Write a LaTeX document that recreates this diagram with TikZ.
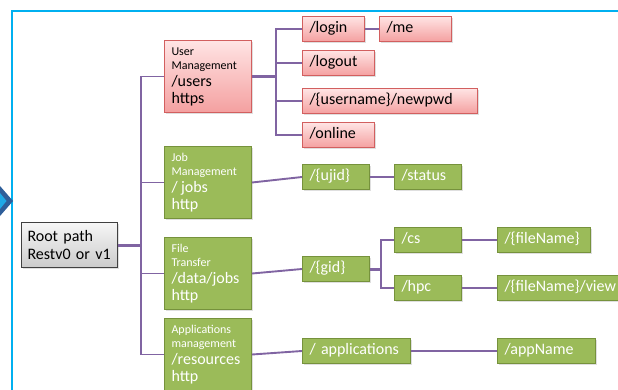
\documentclass[tikz,border=0pt]{standalone}
\usepackage{fontspec}
\setmainfont{Carlito}
\usetikzlibrary{shadows}
\definecolor{frameblue}{HTML}{00B0F0}
\definecolor{chevdark}{HTML}{2E5E9A}
\definecolor{chevlight}{HTML}{1FA8E6}
\definecolor{connc}{HTML}{8064A2}
\definecolor{gfill}{HTML}{9BBB59}
\definecolor{gdraw}{HTML}{76923C}
\definecolor{rtop}{HTML}{FFE4E4}
\definecolor{rbot}{HTML}{F4A0A0}
\definecolor{rdraw}{HTML}{D25F5F}
\definecolor{gtop}{HTML}{F6F6F6}
\definecolor{gbot}{HTML}{CBCBCB}
\tikzset{
  box/.style={draw, line width=1pt, anchor=north west, inner sep=0pt, inner xsep=7pt,
    align=left, drop shadow={opacity=0.25, shadow xshift=1.2pt, shadow yshift=-1.2pt}},
  redbox/.style={box, draw=rdraw, top color=rtop, bottom color=rbot},
  greenbox/.style={box, draw=gdraw, fill=gfill, text=white},
  leaftext/.style={minimum height=25pt, text height=11pt, text depth=4pt,
    font=\fontsize{16}{18}\selectfont},
  rleaf/.style={redbox, leaftext},
  gleaf/.style={greenbox, leaftext},
  bigbox/.style={text width=73pt, minimum height=72pt},
  rootbox/.style={box, draw=black!75, top color=gtop, bottom color=gbot, text width=84pt,
    inner xsep=6pt, minimum height=45pt, font=\fontsize{16}{18}\selectfont},
  conn/.style={draw=connc, line width=1.9pt},
  thickconn/.style={draw=connc, line width=3pt},
  frameline/.style={draw=frameblue, line width=2.3pt},
}
\newcommand{\smalltxt}{\fontsize{12}{14}\selectfont}
\newcommand{\bigtxt}{\fontsize{16}{17}\selectfont}
\begin{document}
\begin{tikzpicture}[x=1pt,y=-1pt]
\useasboundingbox (0,0) rectangle (618,390);
% frame and chevron
\draw[frameline] (12,400) -- (12,11) -- (630,11);
\fill[chevdark] (0,186) -- (13,201) -- (0,216) -- cycle;
\fill[chevlight] (0,193) -- (6.5,201) -- (0,209) -- cycle;

% root
\node[rootbox] (root) at (21,222) {Root path\\Restv0 or v1};

% second level
\node[redbox, bigbox] (um) at (164,40) {{\smalltxt User\\Management\par}{\bigtxt /users\\https\par}};
\node[greenbox, bigbox] (jm) at (164,146) {{\smalltxt Job\\Management\par}{\bigtxt / jobs\\http\par}};
\node[greenbox, bigbox] (ft) at (164,237) {{\smalltxt File\\Transfer\par}{\bigtxt /data/jobs\\http\par}};
\node[greenbox, bigbox] (ap) at (164,318) {{\smalltxt Applications\\management\par}{\bigtxt /resources\\http\par}};

% user leaves
\node[rleaf, text width=48pt] (login) at (302,16) {/login};
\node[rleaf, text width=58pt] (me) at (379,16) {/me};
\node[rleaf, text width=58pt] (logout) at (302,50) {/logout};
\node[rleaf, text width=161pt] (pwd) at (302,88) {/\{username\}/newpwd};
\node[rleaf, text width=58pt] (online) at (302,122) {/online};

% job leaves
\node[gleaf, text width=53pt] (ujid) at (302,164) {/\{ujid\}};
\node[gleaf, text width=53pt] (status) at (394,164) {/status};

% file leaves
\node[gleaf, text width=53pt] (gid) at (302,256) {/\{gid\}};
\node[gleaf, text width=53pt] (cs) at (394,227) {/cs};
\node[gleaf, text width=53pt] (hpc) at (394,275) {/hpc};
\node[gleaf, text width=79pt] (fn) at (497,227) {/\{fileName\}};
\node[gleaf, text width=120pt] (fv) at (497,275) {/\{fileName\}/view};

% apps leaves
\node[gleaf, text width=94pt] (apps) at (302,338) {/ applications};
\node[gleaf, text width=84pt] (appn) at (497,338) {/appName};

% connectors
\coordinate (trunk) at (141,244);
\coordinate (ub) at (276,0);
\coordinate (gb) at (381,0);
\draw[thickconn] (root.east) -- (root.east -| trunk);
\draw[conn] (um.west) -- (um.west -| trunk) -- (ap.west -| trunk) -- (ap.west);
\draw[conn] (jm.west) -- (jm.west -| trunk);
\draw[conn] (ft.west) -- (ft.west -| trunk);

\draw[thickconn] (um.east) -- (um.east -| ub);
\draw[conn] (login.west) -- (login.west -| ub) -- (online.west -| ub) -- (online.west);
\draw[conn] (logout.west) -- (logout.west -| ub);
\draw[conn] (pwd.west) -- (pwd.west -| ub);
\draw[conn] (login.east) -- (me.west);

\draw[conn] (jm.east) -- (ujid.west);
\draw[conn] (ujid.east) -- (status.west);

\draw[conn] (ft.east) -- (gid.west);
\draw[thickconn] (gid.east) -- (gid.east -| gb);
\draw[conn] (cs.west) -- (cs.west -| gb) -- (hpc.west -| gb) -- (hpc.west);
\draw[conn] (cs.east) -- (fn.west);
\draw[conn] (hpc.east) -- (fv.west);

\draw[conn] (ap.east) -- (apps.west);
\draw[conn] (apps.east) -- (appn.west);
\end{tikzpicture}
\end{document}
